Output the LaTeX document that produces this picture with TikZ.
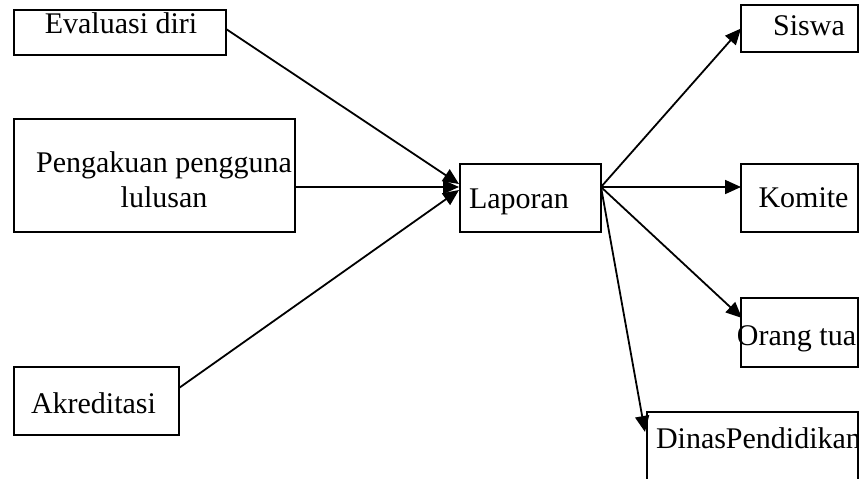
\documentclass[tikz,border=0pt]{standalone}
\usepackage{fontspec}
\setmainfont{Liberation Serif}
\usetikzlibrary{arrows.meta}
\begin{document}
\begin{tikzpicture}[x=1pt,y=-1pt,
  box/.style={draw, line width=2pt, inner sep=0pt, outer sep=0pt},
  txt/.style={inner sep=0pt, outer sep=0pt, font=\fontsize{30}{35}\selectfont},
  conn/.style={line width=1.8pt, -{Triangle[length=16pt,width=14pt]}}]
\useasboundingbox (0,0) rectangle (859,479);
% boxes
\node[box, minimum width=212pt, minimum height=45pt] (eval) at (120,32.5) {};
\node[box, minimum width=281pt, minimum height=113pt] (peng) at (154.5,175.5) {};
\node[box, minimum width=165pt, minimum height=68pt] (akre) at (96.5,401) {};
\node[box, minimum width=141pt, minimum height=68pt] (lap) at (530.5,198) {};
\node[box, minimum width=117pt, minimum height=47pt] (siswa) at (799.5,28.5) {};
\node[box, minimum width=117pt, minimum height=68pt] (komite) at (799.5,198) {};
\node[box, minimum width=117pt, minimum height=69pt] (orang) at (799.5,332.5) {};
\node[box, minimum width=211pt, minimum height=73pt] (dinas) at (752.5,448.5) {};
% texts
\node[txt, anchor=base] (evalt) at (121,33) {Evaluasi diri};
\node[txt, anchor=base, align=center] (pengt) at (164,207) {Pengakuan pengguna\\lulusan};
\node[txt, anchor=base] (akret) at (93.5,413) {Akreditasi};
\node[txt, anchor=base] (lapt) at (519,208) {Laporan};
\node[txt, anchor=base] (siswat) at (809,35) {Siswa};
\node[txt, anchor=base] (komitet) at (803.5,207) {Komite};
\node[txt, anchor=base] (orangt) at (796.5,345) {Orang tua};
\node[txt, anchor=base west] (dinast) at (656,448) {DinasPendidikan};
% connectors in
\draw[conn] ([yshift=3.5pt]eval.east) -- ([xshift=-1pt,yshift=14pt]lap.west);
\draw[conn] ([yshift=-11.5pt]peng.east) -- ([xshift=-1pt,yshift=11pt]lap.west);
\draw[conn] ([yshift=13pt]akre.east) -- ([xshift=-1pt,yshift=8pt]lap.west);
% connectors out
\draw[conn] ([yshift=11pt]lap.east) -- (siswa.west);
\draw[conn] ([yshift=11pt]lap.east) -- ([yshift=11pt]komite.west);
\draw[conn] ([yshift=11pt]lap.east) -- ([xshift=1pt,yshift=14.5pt]orang.west);
\draw[conn] ([yshift=11pt]lap.east) -- ([xshift=-2pt,yshift=-20pt]dinas.north west);
\end{tikzpicture}
\end{document}
